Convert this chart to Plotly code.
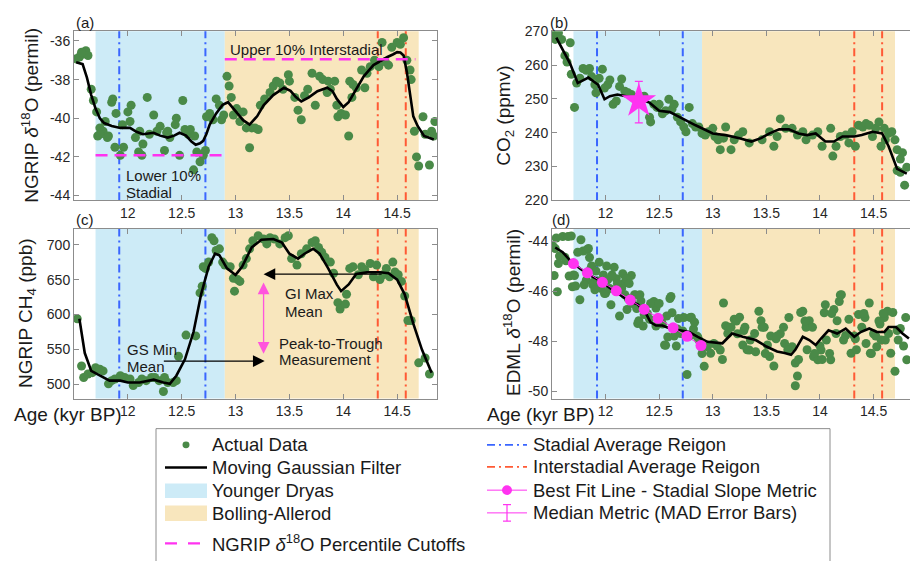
import plotly.graph_objects as go

W, H = 910, 561
FONT = "Liberation Sans, Arial, Helvetica, sans-serif"

# ---------------- data ----------------
YD = [11.7, 12.9]            # Younger Dryas
BA = [12.9, 14.7]            # Bolling-Allerod
STADIAL = [11.92, 12.72]     # stadial average region
INTERSTADIAL = [14.32, 14.58]

x_ticks = [12, 12.5, 13, 13.5, 14, 14.5]
x_ticklabels = ["12", "12.5", "13", "13.5", "14", "14.5"]
a_ticks = [-44, -42, -40, -38, -36]
a_ticklabels = ["-44", "-42", "-40", "-38", "-36"]
b_ticks = [220, 230, 240, 250, 260, 270]
b_ticklabels = ["220", "230", "240", "250", "260", "270"]
c_ticks = [500, 550, 600, 650, 700]
c_ticklabels = ["500", "550", "600", "650", "700"]
d_ticks = [-50, -48, -46, -44]
d_ticklabels = ["-50", "-48", "-46", "-44"]

# (a) NGRIP d18O
ngrip_age = [11.52, 11.55, 11.59, 11.61, 11.63, 11.57, 11.66, 11.68, 11.71, 11.74, 11.77, 11.72, 11.79, 11.82,
             11.85, 11.86, 11.89, 11.88, 11.93, 11.96, 11.95, 12.02, 12.03, 12.00, 12.07, 12.10, 12.13, 12.18,
             12.24, 12.20, 12.30, 12.34, 12.37, 12.39, 12.45, 12.48, 12.51, 12.53, 12.56, 12.58, 12.61, 12.62,
             12.64, 12.67, 12.70, 12.72, 12.73, 12.76, 12.79, 12.82, 12.87, 12.11, 12.14, 12.27, 12.36, 12.44,
             12.85, 12.89, 11.74, 11.81, 12.92, 12.94, 12.96, 12.98, 13.01, 13.04, 13.07, 13.10, 13.13, 13.15,
             13.18, 13.21, 13.23, 13.27, 13.32, 13.35, 13.38, 13.41, 13.44, 13.49, 13.50, 13.55, 13.58, 13.61,
             13.64, 13.67, 13.71, 13.74, 13.78, 13.81, 13.86, 13.92, 13.88, 13.85, 13.94, 13.95, 13.98, 14.02,
             14.05, 14.06, 14.09, 14.12, 14.17, 14.20, 14.22, 14.25, 14.29, 14.33, 14.36, 14.39, 14.42, 14.45,
             14.50, 14.53, 14.56, 14.59, 14.62, 14.63, 14.66, 14.68, 14.70, 14.74, 14.76, 14.80, 14.82, 14.85,
             14.84, 14.08]
ngrip_d18o = [-36.92, -36.83, -36.67, -36.5, -36.75, -36.58, -38.5, -39.08, -39.67, -40.5, -40.67, -40.92, -40.17,
              -40.92, -39.17, -39.0, -39.75, -41.5, -41.92, -41.5, -40.33, -40.17, -39.33, -39.67, -41.0, -41.75,
              -41.92, -38.92, -39.83, -40.83, -40.42, -41.67, -40.67, -41.0, -40.0, -41.92, -39.08, -40.58, -40.83,
              -40.58, -42.67, -40.92, -41.75, -42.25, -41.92, -41.67, -39.92, -39.75, -40.08, -39.0, -40.08, -40.67,
              -41.33, -40.67, -40.75, -40.33, -39.33, -39.83, -40.83, -41.0, -37.83, -38.33, -38.92, -39.83, -39.5,
              -40.17, -39.67, -40.5, -41.53, -40.5, -40.5, -40.58, -39.33, -39.0, -38.67, -38.33, -38.08, -38.17,
              -38.5, -37.75, -38.08, -38.92, -39.58, -40.08, -38.83, -38.5, -37.67, -39.33, -37.83, -38.0, -38.08,
              -38.08, -38.5, -38.67, -39.33, -39.92, -39.75, -39.83, -40.92, -38.08, -38.25, -38.42, -37.5, -38.42,
              -37.67, -37.33, -37.0, -37.33, -36.08, -37.08, -37.25, -36.33, -36.08, -36.17, -35.83, -37.0, -37.5,
              -38.0, -40.67, -42.0, -42.47, -39.92, -40.83, -42.42, -40.67, -40.17, -40.92, -38.92]
ngrip_filt_age = [11.52, 11.58, 11.62, 11.66, 11.70, 11.74, 11.78, 11.85, 11.93, 12.02, 12.08, 12.14, 12.24, 12.30,
                  12.37, 12.43, 12.48, 12.54, 12.59, 12.63, 12.67, 12.70, 12.73, 12.76, 12.82, 12.88, 12.93, 13.01,
                  13.07, 13.13, 13.20, 13.26, 13.35, 13.45, 13.51, 13.56, 13.61, 13.68, 13.76, 13.85, 13.90, 13.94,
                  14.00, 14.05, 14.12, 14.19, 14.28, 14.35, 14.41, 14.46, 14.50, 14.53, 14.56, 14.59, 14.61, 14.63,
                  14.65, 14.69, 14.75, 14.84]
ngrip_filt = [-37.1, -37.2, -37.9, -38.8, -39.5, -40.0, -40.25, -40.4, -40.5, -40.5, -40.7, -40.83, -40.75, -40.9,
              -41.0, -40.9, -40.75, -40.9, -41.2, -41.37, -41.3, -41.17, -40.8, -40.33, -39.75, -39.3, -39.17,
              -39.67, -40.1, -40.33, -39.9, -39.33, -38.8, -38.42, -38.58, -38.9, -39.13, -38.92, -38.6, -38.42,
              -38.6, -39.0, -39.42, -39.17, -38.5, -37.83, -37.25, -37.0, -36.83, -36.7, -36.58, -36.6, -36.75,
              -37.6, -38.4, -39.3, -39.9, -40.4, -40.92, -41.1]
lower_cut_age = [11.7, 12.88]
lower_cut = [-41.92, -41.92]
upper_cut_age = [12.9, 14.67]
upper_cut = [-36.95, -36.95]

# (b) CO2
co2_age = [11.50, 11.53, 11.56, 11.59, 11.62, 11.64, 11.67, 11.68, 11.71, 11.73, 11.76, 11.79, 11.82, 11.85, 11.87,
           11.90, 11.91, 11.94, 11.97, 11.99, 12.02, 12.04, 12.07, 12.10, 12.13, 12.15, 12.18, 12.21, 12.24, 12.27,
           12.30, 12.33, 12.36, 12.41, 12.42, 12.45, 12.48, 12.50, 12.53, 12.56, 12.59, 12.62, 12.64, 12.67, 12.70,
           12.73, 12.75, 12.78, 12.81, 12.84, 12.87, 12.90, 12.93, 12.96, 13.00, 13.02, 13.05, 13.07, 13.10, 13.12,
           13.17, 13.20, 13.24, 13.28, 13.34, 13.46, 13.53, 13.57, 13.60, 13.63, 13.68, 13.74, 13.79, 13.84, 13.87,
           13.93, 13.98, 14.02, 14.10, 14.12, 14.15, 14.19, 14.24, 14.27, 14.30, 14.33, 14.36, 14.40, 14.43, 14.46,
           14.49, 14.52, 14.55, 14.57, 14.60, 14.61, 14.64, 14.67, 14.70, 14.72, 14.75, 14.77, 14.72, 14.75, 14.79,
           14.81]
co2 = [269.0, 267.6, 269.5, 267.6, 262.8, 260.9, 266.6, 257.3, 247.5, 254.7, 256.1, 259.0, 258.5, 259.0, 256.6,
       254.2, 251.8, 256.1, 258.8, 253.2, 254.2, 255.6, 248.4, 249.4, 253.7, 255.9, 252.3, 251.8, 251.3, 250.4,
       249.4, 250.4, 250.8, 244.6, 243.2, 248.4, 247.5, 248.4, 245.6, 246.5, 249.9, 247.0, 248.4, 244.6, 243.2,
       241.7, 240.3, 247.5, 242.7, 241.7, 241.7, 239.8, 239.3, 240.3, 241.3, 238.9, 237.9, 235.0, 238.4, 241.7,
       235.0, 237.9, 239.3, 240.3, 237.0, 237.9, 240.3, 236.0, 238.9, 244.1, 241.3, 241.3, 239.3, 240.3, 237.9,
       239.3, 240.3, 236.0, 241.3, 233.1, 236.0, 238.9, 239.3, 237.0, 240.3, 236.0, 242.2, 241.7, 242.7, 242.2,
       238.9, 241.3, 243.2, 236.0, 241.3, 237.9, 239.8, 240.3, 237.9, 235.0, 232.2, 234.1, 228.8, 228.3, 224.5,
       229.8]
co2_filt_age = [11.54, 11.60, 11.67, 11.74, 11.84, 11.93, 11.99, 12.04, 12.11, 12.19, 12.32, 12.41, 12.50, 12.60,
                12.69, 12.84, 13.00, 13.12, 13.25, 13.36, 13.45, 13.53, 13.62, 13.71, 13.80, 13.88, 13.96, 14.05,
                14.13, 14.21, 14.32, 14.39, 14.49, 14.58, 14.64, 14.72, 14.81]
co2_filt = [268.1, 264.7, 260.4, 254.7, 256.3, 254.2, 249.9, 250.8, 251.3, 250.8, 249.9, 248.9, 246.5, 246.1,
            244.6, 242.2, 239.8, 239.3, 238.4, 237.4, 238.4, 239.8, 241.0, 241.0, 239.8, 239.3, 239.8, 237.4,
            237.4, 238.9, 238.9, 239.3, 240.3, 239.8, 236.0, 229.3, 227.9]
median_age = [12.31]
median_co2 = [249.4]
mad_plus = [5.8]
mad_minus = [6.5]

# (c) NGRIP CH4
ch4_age = [11.53, 11.57, 11.59, 11.63, 11.67, 11.70, 11.74, 11.77, 11.82, 11.85, 11.88, 11.93, 11.97, 12.02, 12.05,
           12.10, 12.13, 12.17, 12.22, 12.25, 12.29, 12.33, 12.34, 12.37, 12.42, 12.45, 12.47, 12.54, 12.63, 12.67,
           12.69, 12.70, 12.72, 12.75, 12.78, 12.80, 12.82, 12.85, 12.88, 12.90, 12.95, 12.98, 12.99, 13.02, 13.04,
           13.07, 13.10, 13.13, 13.16, 13.21, 13.26, 13.29, 13.32, 13.36, 13.41, 13.46, 13.49, 13.52, 13.57, 13.61,
           13.66, 13.71, 13.74, 13.77, 13.80, 13.83, 13.88, 13.91, 13.95, 13.97, 14.02, 14.03, 14.06, 14.09, 14.14,
           14.17, 14.20, 14.25, 14.28, 14.31, 14.34, 14.37, 14.40, 14.43, 14.46, 14.48, 14.51, 14.54, 14.57, 14.60,
           14.63, 14.70, 14.76, 14.80]
ch4 = [594, 526.5, 510, 515, 517, 524, 522, 519.5, 501, 505.6, 508, 512.6, 510, 508, 498.6, 503, 508, 505.6, 510,
       510, 505.6, 490, 510, 503, 503, 505.6, 540.5, 570.7, 569.5, 631, 640.5, 668.4, 666, 675, 710, 705.6, 691.6,
       694, 675, 670.7, 668.4, 652, 633.5, 650, 647.4, 670.7, 680, 694, 705.6, 712.6, 708, 701, 710, 708, 701, 710,
       712.6, 680, 670.7, 687, 694, 703, 705.6, 696, 689, 682, 675, 659, 617, 608, 615, 629, 666, 668.4, 657, 668.4,
       664, 673, 654, 670.7, 650, 657, 666, 654, 675, 661, 657, 647.4, 626.5, 591.6, 591.6, 531, 538, 515]
ch4_filt_age = [11.55, 11.60, 11.66, 11.74, 11.83, 11.93, 12.00, 12.11, 12.24, 12.33, 12.39, 12.45, 12.53, 12.61,
                12.68, 12.75, 12.81, 12.85, 12.92, 13.00, 13.06, 13.15, 13.24, 13.35, 13.43, 13.50, 13.58, 13.64,
                13.72, 13.78, 13.86, 13.94, 13.98, 14.05, 14.12, 14.22, 14.34, 14.42, 14.50, 14.57, 14.65, 14.73,
                14.82]
ch4_filt = [594, 545, 519.5, 512.6, 505.6, 505.6, 503, 503, 507, 503, 501, 512.6, 536, 575.4, 629, 668.4, 687,
            684.7, 666, 656.7, 668.4, 696, 707, 708, 703, 687, 680, 687, 694, 687, 666, 642.8, 633.5, 643, 658,
            660.5, 660.5, 659, 650, 629, 587, 550, 517]

# (d) EDML d18O
edml_age = [11.51, 11.54, 11.60, 11.65, 11.57, 11.52, 11.55, 11.63, 11.69, 11.71, 11.77, 11.79, 11.76, 11.83, 11.85,
            11.86, 11.82, 11.89, 11.96, 12.00, 12.08, 12.10, 12.16, 12.17, 12.24, 12.05, 12.13, 12.20, 12.28, 12.31,
            12.36, 12.41, 12.45, 12.47, 12.53, 12.58, 12.56, 12.61, 12.62, 12.67, 12.73, 12.79, 12.82, 12.86, 12.92,
            12.76, 12.95, 12.98, 13.01, 13.07, 13.10, 13.12,
            11.53, 11.56, 11.62, 11.66, 11.68, 11.70, 11.72, 11.74, 11.80, 11.84, 11.87, 11.88, 11.90, 11.91, 11.93,
            11.94, 11.98, 11.99, 12.01, 12.02, 12.04, 12.06, 12.11, 12.15, 12.18, 12.19, 12.21, 12.22, 12.25, 12.27,
            12.29, 12.30, 12.32, 12.33, 12.35, 12.37, 12.39, 12.42, 12.47, 12.50, 12.52, 12.55, 12.57, 12.60, 12.64,
            12.66, 12.68, 12.70, 12.72, 12.78, 12.80, 12.83, 12.85, 12.87, 12.90, 13.04, 13.09, 13.14,
            13.15, 13.20, 13.23, 13.29, 13.34, 13.40, 13.43, 13.45, 13.48, 13.53, 13.59, 13.63, 13.67, 13.71, 13.74,
            13.77, 13.79, 13.77, 13.84, 13.87, 13.90, 13.94, 13.98, 14.01, 14.04, 14.05, 14.10, 14.13, 14.16, 14.19,
            14.18, 14.24, 14.29, 14.27, 14.33, 14.36, 14.39, 14.42, 14.46, 14.47, 14.50, 14.53, 14.56, 14.60, 14.63,
            14.66, 14.70, 14.72, 14.80, 14.81,
            13.17, 13.22, 13.25, 13.28, 13.30, 13.32, 13.35, 13.39, 13.46, 13.49, 13.51, 13.54, 13.57, 13.60, 13.66,
            13.70, 13.80, 13.82, 13.86, 13.88, 13.93, 13.95, 14.00, 14.02, 14.06, 14.09, 14.11, 14.15, 14.20, 14.22,
            14.32, 14.34, 14.41, 14.43, 14.48, 14.52, 14.55, 14.57, 14.59, 14.61, 14.64, 14.68, 14.73, 14.75, 14.78]
edml = [-44.21, -43.88, -43.82, -43.82, -44.60, -45.38, -46.03, -44.79, -45.83, -45.38, -43.95, -44.40, -46.35,
        -44.34, -44.66, -45.12, -45.57, -45.64, -45.90, -46.09, -45.05, -45.51, -45.31, -45.70, -45.38, -46.55,
        -47.00, -46.74, -46.16, -47.19, -46.94, -47.13, -46.42, -46.68, -47.32, -47.84, -48.17, -46.22, -46.87,
        -47.52, -47.06, -47.06, -47.52, -47.84, -49.01, -49.34, -48.23, -48.49, -48.10, -48.36, -46.48, -47.39,
        -44.3, -44.9, -44.65, -45.4, -43.8, -45.36, -45.8, -44.45, -45.75, -44.3, -45.0, -45.75, -45.95, -45.2,
        -45.6, -44.85, -45.36, -46.1, -45.0, -45.55, -45.9, -45.36, -45.7, -45.9, -46.15, -45.5, -46.3, -45.7,
        -46.5, -46.15, -46.7, -47.3, -46.15, -46.4, -47.4, -46.8, -46.9, -46.5, -47.4, -46.5, -47.2, -48.16, -47.0,
        -46.3, -47.8, -48.2, -47.1, -47.7, -47.6, -47.8, -47.05, -47.25, -47.8, -47.96, -48.5, -48.2, -48.74, -47.7,
        -47.45, -47.13, -47.71, -47.58, -48.36, -48.43, -46.81, -47.19, -47.45, -48.62, -47.91, -47.71, -48.10,
        -47.06, -48.23, -48.88, -49.40, -49.79, -46.81, -47.45, -47.19, -48.62, -48.75, -48.36, -46.87, -46.55,
        -48.75, -46.74, -47.19, -46.16, -46.42, -47.78, -48.49, -47.13, -47.91, -46.94, -47.45, -47.06, -46.48,
        -48.49, -47.71, -48.23, -47.32, -47.06, -46.81, -48.49, -49.21, -47.58, -47.06, -48.75,
        -47.45, -47.2, -47.05, -48.16, -47.45, -48.35, -47.96, -47.7, -47.45, -48.5, -48.16, -47.8, -49.0, -47.8,
        -47.45, -48.35, -48.74, -46.86, -47.2, -48.35, -47.45, -48.5, -48.2, -48.74, -47.96, -48.5, -46.9, -47.7,
        -46.15, -47.96, -47.8, -48.35, -46.9, -48.1, -48.5, -47.8, -47.2, -47.96, -46.9, -47.96, -47.7, -46.86,
        -47.96, -47.5, -48.2]
edml_filt_age = [11.53, 11.60, 11.67, 11.76, 11.85, 11.94, 12.04, 12.13, 12.22, 12.30, 12.38, 12.42, 12.47, 12.53,
                 12.60, 12.69, 12.78, 12.86, 12.95, 13.09, 13.18, 13.28, 13.40, 13.50, 13.60, 13.67, 13.73, 13.77,
                 13.84, 13.90, 13.96, 14.01, 14.08, 14.16, 14.24, 14.32, 14.38, 14.46, 14.53, 14.60, 14.64, 14.71,
                 14.77, 14.83]
edml_filt = [-44.26, -44.45, -44.78, -45.1, -45.36, -45.56, -45.88, -46.14, -46.4, -46.53, -46.92, -47.25, -47.38,
             -47.38, -47.5, -47.57, -47.64, -47.83, -48.03, -48.09, -47.7, -47.83, -47.96, -48.22, -48.42, -48.48,
             -48.55, -48.35, -47.83, -47.96, -48.16, -47.9, -47.57, -47.7, -47.5, -47.83, -47.64, -47.5, -47.64,
             -47.64, -47.44, -47.44, -47.7, -47.9]
slope_age = [11.70, 11.83, 11.97, 12.10, 12.23, 12.36, 12.49, 12.63, 12.76, 12.89]
slope_val = [-44.9, -45.27, -45.65, -45.99, -46.36, -46.73, -47.09, -47.47, -47.81, -48.18]

# ---------------- styles ----------------
GREEN = "#4a8a48"
BLUE_FILL = "#cdebf7"
ORANGE_FILL = "#f8e6bd"
BLUE_LINE = "#3a66ff"
RED_LINE = "#ff5a35"
MAGENTA = "#ff33f0"
GRAY = "#8c8c8c"
TXT = "#1a1a1a"
DASHDOT = "8px,4px,2px,4px"


def px(x):
    return x / W


def py(y):
    return 1 - y / H


fig = go.Figure()

panels = [
    ("x", "y", ngrip_age, ngrip_d18o, ngrip_filt_age, ngrip_filt),
    ("x2", "y2", co2_age, co2, co2_filt_age, co2_filt),
    ("x3", "y3", ch4_age, ch4, ch4_filt_age, ch4_filt),
    ("x4", "y4", edml_age, edml, edml_filt_age, edml_filt),
]

shapes = []
for xa, ya, ax_, ay_, fx, fy in panels:
    fig.add_trace(go.Scatter(x=ax_, y=ay_, mode="markers", xaxis=xa, yaxis=ya,
                             marker=dict(color=GREEN, size=9), showlegend=False))
    fig.add_trace(go.Scatter(x=fx, y=fy, mode="lines", xaxis=xa, yaxis=ya,
                             line=dict(color="black", width=2.6), showlegend=False))
    yref = ya + " domain"
    shapes.append(dict(type="rect", xref=xa, yref=yref, x0=YD[0], x1=YD[1], y0=0, y1=1,
                       fillcolor=BLUE_FILL, line=dict(width=0), layer="below"))
    shapes.append(dict(type="rect", xref=xa, yref=yref, x0=BA[0], x1=BA[1], y0=0, y1=1,
                       fillcolor=ORANGE_FILL, line=dict(width=0), layer="below"))
    for xv in STADIAL:
        shapes.append(dict(type="line", xref=xa, yref=yref, x0=xv, x1=xv, y0=0, y1=1,
                           line=dict(color=BLUE_LINE, width=2, dash=DASHDOT), layer="below"))
    for xv in INTERSTADIAL:
        shapes.append(dict(type="line", xref=xa, yref=yref, x0=xv, x1=xv, y0=0, y1=1,
                           line=dict(color=RED_LINE, width=2, dash=DASHDOT), layer="below"))

# percentile cutoffs in (a)
for cx_, cy_ in [(lower_cut_age, lower_cut), (upper_cut_age, upper_cut)]:
    fig.add_trace(go.Scatter(x=cx_, y=cy_, mode="lines", xaxis="x", yaxis="y",
                             line=dict(color=MAGENTA, width=2.5, dash="12px,7px"), showlegend=False))

# median metric in (b)
fig.add_trace(go.Scatter(x=median_age, y=median_co2, mode="markers", xaxis="x2", yaxis="y2",
                         marker=dict(symbol="star", size=26, color=MAGENTA),
                         error_y=dict(type="data", array=mad_plus, arrayminus=mad_minus,
                                      color=MAGENTA, thickness=1.2, width=4),
                         showlegend=False))

# best-fit line in (d)
fig.add_trace(go.Scatter(x=slope_age, y=slope_val, mode="lines+markers", xaxis="x4", yaxis="y4",
                         line=dict(color=MAGENTA, width=1),
                         marker=dict(color=MAGENTA, size=11), showlegend=False))

tickfont = dict(family=FONT, size=14, color="#262626")
common = dict(showline=True, linecolor=GRAY, linewidth=1, ticks="inside", ticklen=5,
              tickcolor=GRAY, tickwidth=1, showgrid=False, zeroline=False, tickfont=tickfont)

LX = [px(74), px(437)]
RX = [px(552), 1.0]
TY = [py(198), py(24)]
BY = [py(402), py(227)]

fig.update_layout(
    width=W, height=H, margin=dict(l=0, r=0, t=0, b=0),
    paper_bgcolor="white", plot_bgcolor="white", showlegend=False,
    font=dict(family=FONT, color=TXT),
    xaxis=dict(domain=LX, range=[11.5, 14.87], anchor="y", mirror="ticks",
               tickvals=x_ticks, ticktext=x_ticklabels, **common),
    yaxis=dict(domain=TY, range=[-44.25, -35.5], anchor="x", mirror="ticks",
               tickvals=a_ticks, ticktext=a_ticklabels, **common),
    xaxis2=dict(domain=RX, range=[11.5, 14.84], anchor="y2", mirror="ticks",
                tickvals=x_ticks, ticktext=x_ticklabels, **common),
    yaxis2=dict(domain=TY, range=[220, 270], anchor="x2", mirror=False,
                tickvals=b_ticks, ticktext=b_ticklabels, **common),
    xaxis3=dict(domain=LX, range=[11.5, 14.87], anchor="y3", mirror="ticks",
                tickvals=x_ticks, ticktext=x_ticklabels, **common),
    yaxis3=dict(domain=BY, range=[480, 723], anchor="x3", mirror="ticks",
                tickvals=c_ticks, ticktext=c_ticklabels, **common),
    xaxis4=dict(domain=RX, range=[11.5, 14.84], anchor="y4", mirror="ticks",
                tickvals=x_ticks, ticktext=x_ticklabels, **common),
    yaxis4=dict(domain=BY, range=[-50.3, -43.5], anchor="x4", mirror=False,
                tickvals=d_ticks, ticktext=d_ticklabels, **common),
)

annotations = []


def text(t, x, y, xref="paper", yref="paper", size=15, xanchor="left", yanchor="middle", angle=0, color=TXT):
    annotations.append(dict(text=t, x=x, y=y, xref=xref, yref=yref, showarrow=False,
                            font=dict(family=FONT, size=size, color=color),
                            xanchor=xanchor, yanchor=yanchor, textangle=angle))


# panel letters
text("(a)", px(74), py(15), size=15)
text("(b)", px(548), py(15), size=15)
text("(c)", px(74), py(218), size=15)
text("(d)", px(550), py(218), size=15)

# axis titles
text("NGRIP <i>δ</i><sup>18</sup>O (permil)", px(30), py(111), size=19, xanchor="center", angle=-90)
text("CO<sub>2</sub> (ppmv)", px(505), py(111), size=19, xanchor="center", angle=-90)
text("NGRIP CH<sub>4</sub> (ppb)", px(27), py(314), size=19, xanchor="center", angle=-90)
text("EDML <i>δ</i><sup>18</sup>O (permil)", px(512), py(314), size=19, xanchor="center", angle=-90)
text("Age (kyr BP)", px(12), py(418), size=19)
text("Age (kyr BP)", px(485), py(418), size=19)

# in-panel text
text("Lower 10%", 11.96, -42.97, "x", "y", size=15)
text("Stadial", 11.96, -43.83, "x", "y", size=15)
text("Upper 10% Interstadial", 12.93, -36.42, "x", "y", size=15)
text("GI Max", 13.44, 629.8, "x3", "y3", size=15)
text("Mean", 13.44, 604.7, "x3", "y3", size=15)
text("GS Min", 11.975, 550.7, "x3", "y3", size=15)
text("Mean", 11.975, 526.5, "x3", "y3", size=15)
text("Peak-to-Trough", 13.38, 559, "x3", "y3", size=15)
text("Measurement", 13.38, 535.8, "x3", "y3", size=15)

# arrows in (c)
annotations.append(dict(x=13.26, y=657.7, ax=14.37, ay=657.7, xref="x3", yref="y3", axref="x3", ayref="y3",
                        text="", showarrow=True, arrowhead=2, arrowsize=1.8, arrowwidth=1.3, arrowcolor="black"))
annotations.append(dict(x=13.27, y=533.5, ax=12.32, ay=533.5, xref="x3", yref="y3", axref="x3", ayref="y3",
                        text="", showarrow=True, arrowhead=2, arrowsize=1.8, arrowwidth=1.3, arrowcolor="black"))
annotations.append(dict(x=13.26, y=544, ax=13.26, ay=648, xref="x3", yref="y3", axref="x3", ayref="y3",
                        text="", showarrow=True, arrowhead=2, arrowsize=1.8, arrowwidth=1.3,
                        startarrowhead=2, startarrowsize=1.8, arrowside="end+start", arrowcolor="#ff55dd"))

# ---------- manual legend ----------
LEG_L, LEG_T, LEG_R = 156, 433, 830
shapes.append(dict(type="rect", xref="paper", yref="paper", x0=px(LEG_L), x1=px(LEG_R), y0=py(570), y1=py(LEG_T),
                   line=dict(color=GRAY, width=1), fillcolor="rgba(0,0,0,0)"))
rows_l = [449.7, 473, 497, 520, 551]
rows_r = [449.7, 472.3, 496.3, 519.7]
sx0, sx1, tl = 165, 207, 210
rx0, rx1, tr = 487, 527, 531
# Actual data
shapes.append(dict(type="circle", xref="paper", yref="paper", x0=px(186 - 3.5), x1=px(186 + 3.5),
                   y0=py(rows_l[0] + 3.5), y1=py(rows_l[0] - 3.5), fillcolor=GREEN, line=dict(width=0)))
# Moving Gaussian Filter
shapes.append(dict(type="line", xref="paper", yref="paper", x0=px(sx0), x1=px(sx1), y0=py(rows_l[1]), y1=py(rows_l[1]),
                   line=dict(color="black", width=2.6)))
# YD / BA patches
shapes.append(dict(type="rect", xref="paper", yref="paper", x0=px(sx0), x1=px(sx1), y0=py(rows_l[2] + 7.5),
                   y1=py(rows_l[2] - 7.5), fillcolor=BLUE_FILL, line=dict(width=0)))
shapes.append(dict(type="rect", xref="paper", yref="paper", x0=px(sx0), x1=px(sx1), y0=py(rows_l[3] + 8),
                   y1=py(rows_l[3] - 8), fillcolor=ORANGE_FILL, line=dict(width=0)))
# percentile cutoffs legend
shapes.append(dict(type="line", xref="paper", yref="paper", x0=px(sx0), x1=px(sx1 - 5), y0=py(rows_l[4]), y1=py(rows_l[4]),
                   line=dict(color=MAGENTA, width=2.2, dash="12px,11px")))
# stadial / interstadial
shapes.append(dict(type="line", xref="paper", yref="paper", x0=px(rx0), x1=px(rx1), y0=py(rows_r[0]), y1=py(rows_r[0]),
                   line=dict(color=BLUE_LINE, width=1.8, dash=DASHDOT)))
shapes.append(dict(type="line", xref="paper", yref="paper", x0=px(rx0), x1=px(rx1), y0=py(rows_r[1]), y1=py(rows_r[1]),
                   line=dict(color=RED_LINE, width=1.8, dash=DASHDOT)))
# best fit
shapes.append(dict(type="line", xref="paper", yref="paper", x0=px(rx0), x1=px(rx1), y0=py(rows_r[2]), y1=py(rows_r[2]),
                   line=dict(color=MAGENTA, width=1)))
shapes.append(dict(type="circle", xref="paper", yref="paper", x0=px(507 - 5), x1=px(507 + 5),
                   y0=py(rows_r[2] + 5), y1=py(rows_r[2] - 5), fillcolor=MAGENTA, line=dict(width=0)))
# median
shapes.append(dict(type="line", xref="paper", yref="paper", x0=px(rx0), x1=px(rx1), y0=py(rows_r[3]), y1=py(rows_r[3]),
                   line=dict(color=MAGENTA, width=1)))
shapes.append(dict(type="line", xref="paper", yref="paper", x0=px(507), x1=px(507), y0=py(rows_r[3] + 8.5),
                   y1=py(rows_r[3] - 8.5), line=dict(color=MAGENTA, width=1.2)))
for dy in (-8.5, 8.5):
    shapes.append(dict(type="line", xref="paper", yref="paper", x0=px(503), x1=px(511), y0=py(rows_r[3] + dy),
                       y1=py(rows_r[3] + dy), line=dict(color=MAGENTA, width=1.2)))

legend_left = ["Actual Data", "Moving Gaussian Filter", "Younger Dryas", "Bolling-Allerod",
               "NGRIP <i>δ</i><sup>18</sup>O Percentile Cutoffs"]
legend_right = ["Stadial Average Reigon", "Interstadial Average Reigon", "Best Fit Line - Stadial Slope Metric",
                "Median Metric (MAD Error Bars)"]
for t, r in zip(legend_left, rows_l):
    text(t, px(tl), py(r), size=18.5)
for t, r in zip(legend_right, rows_r):
    text(t, px(tr), py(r), size=18.5)

fig.update_layout(shapes=shapes, annotations=annotations)
fig.write_html("out.html",
               config={"displayModeBar": False, "staticPlot": True},
               post_script="document.body.style.margin='0';document.body.style.overflow='hidden';")
